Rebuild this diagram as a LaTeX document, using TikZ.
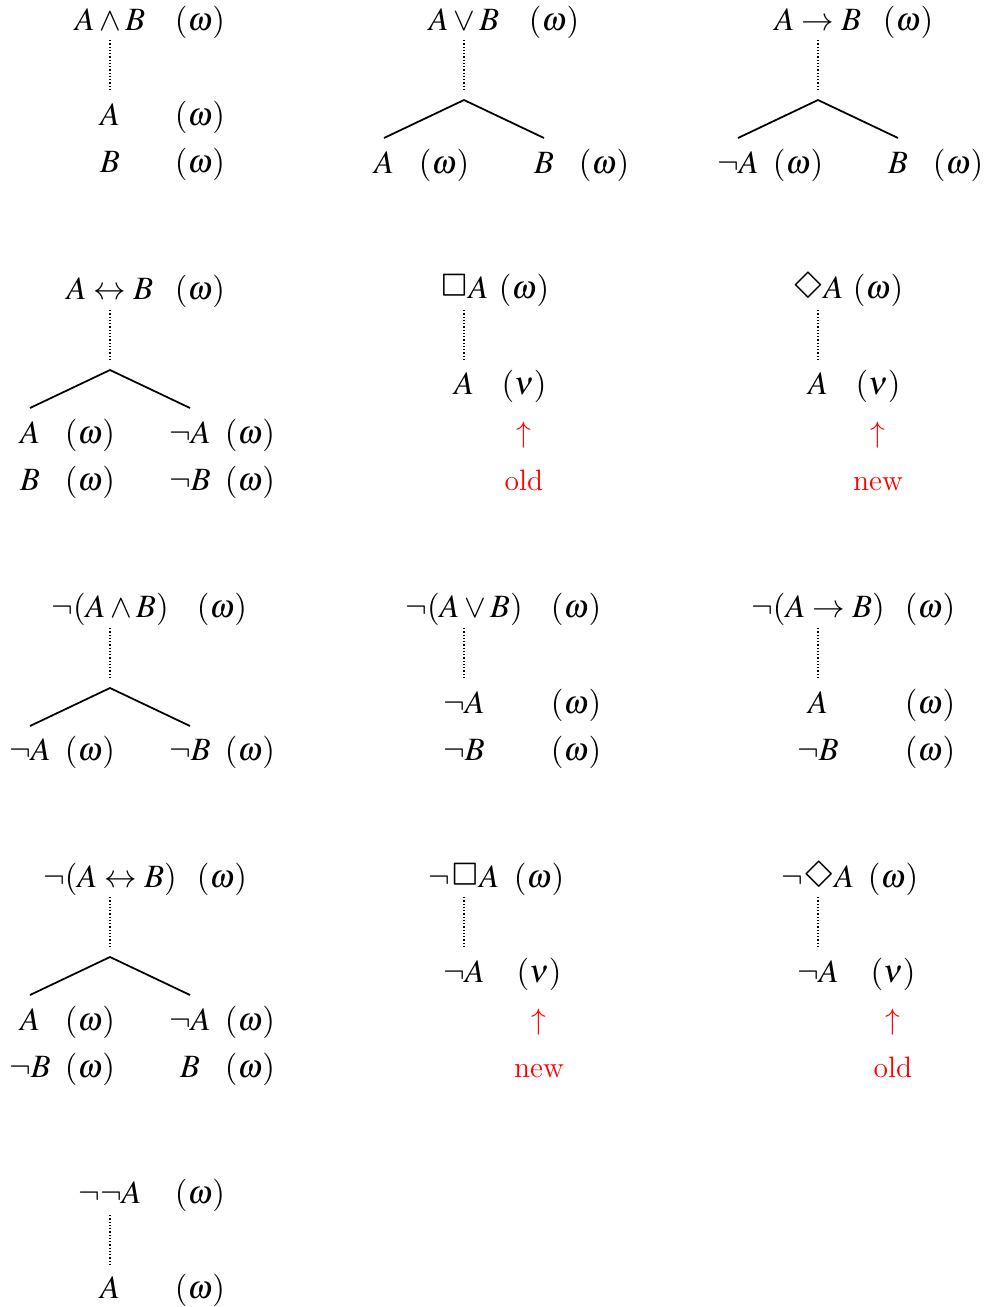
\documentclass[tikz,border=0pt]{standalone}
\usepackage{latexsym}
\usepackage{mathptmx}
\newcommand{\BoxOp}{\mathord{\scalebox{1.3}{$\Box$}}}
\newcommand{\DiaOp}{\mathord{\scalebox{1.3}{$\Diamond$}}}
\begin{document}
\begin{tikzpicture}[x=0.4pt,y=-0.4pt,
  lbl/.style={inner sep=0pt,anchor=base,font=\fontsize{13}{15}\selectfont},
  note/.style={inner sep=0pt,anchor=base,text=red,font=\fontsize{11.8}{14}\selectfont},
  dots/.style={line width=0.55pt,dash pattern=on 0.55pt off 0.75pt},
  branch/.style={line width=0.7pt}]
\useasboundingbox (0,0) rectangle (984,1307);
% ---------- Panel 1: A and B
\node[lbl] (f1) at (110,30) {$A\wedge B$};
\node[lbl] (w1) at (200,30) {$(\omega)$};
\coordinate (d1t) at (110,40); \coordinate (d1b) at (110,90);
\draw[dots] (d1t) -- (d1b);
\node[lbl] (p1a) at (110,125) {$A$};
\node[lbl] (p1aw) at (200,125) {$(\omega)$};
\node[lbl] (p1b) at (110,172) {$B$};
\node[lbl] (p1bw) at (200,172) {$(\omega)$};
% ---------- Panel 2: A or B
\node[lbl] (f2) at (464,30) {$A\vee B$};
\node[lbl] (w2) at (554,30) {$(\omega)$};
\coordinate (d2t) at (464,40); \coordinate (d2b) at (464,90);
\draw[dots] (d2t) -- (d2b);
\coordinate (ap2) at (464,100); \coordinate (l2) at (384,138); \coordinate (r2) at (544,138);
\draw[branch] (l2) -- (ap2) -- (r2);
\node[lbl] (p2a) at (384,173) {$A$};
\node[lbl] (p2aw) at (444,173) {$(\omega)$};
\node[lbl] (p2b) at (544,173) {$B$};
\node[lbl] (p2bw) at (604,173) {$(\omega)$};
% ---------- Panel 3: A -> B
\node[lbl] (f3) at (818,30) {$A\rightarrow B$};
\node[lbl] (w3) at (908,30) {$(\omega)$};
\coordinate (d3t) at (818,40); \coordinate (d3b) at (818,90);
\draw[dots] (d3t) -- (d3b);
\coordinate (ap3) at (818,100); \coordinate (l3) at (738,138); \coordinate (r3) at (898,138);
\draw[branch] (l3) -- (ap3) -- (r3);
\node[lbl] (p3a) at (738,173) {$\neg A$};
\node[lbl] (p3aw) at (798,173) {$(\omega)$};
\node[lbl] (p3b) at (898,173) {$B$};
\node[lbl] (p3bw) at (958,173) {$(\omega)$};
% ---------- Panel 4: A <-> B
\node[lbl] (f4) at (110,299) {$A\leftrightarrow B$};
\node[lbl] (w4) at (200,299) {$(\omega)$};
\coordinate (d4t) at (110,310); \coordinate (d4b) at (110,360);
\draw[dots] (d4t) -- (d4b);
\coordinate (ap4) at (110,370); \coordinate (l4) at (30,408); \coordinate (r4) at (190,408);
\draw[branch] (l4) -- (ap4) -- (r4);
\node[lbl] (p4a) at (30,443) {$A$};
\node[lbl] (p4aw) at (90,443) {$(\omega)$};
\node[lbl] (p4na) at (190,443) {$\neg A$};
\node[lbl] (p4naw) at (250,443) {$(\omega)$};
\node[lbl] (p4b) at (30,490) {$B$};
\node[lbl] (p4bw) at (90,490) {$(\omega)$};
\node[lbl] (p4nb) at (190,490) {$\neg B$};
\node[lbl] (p4nbw) at (250,490) {$(\omega)$};
% ---------- Panel 5: Box A
\node[lbl] (f5) at (464,298) {$\BoxOp A$};
\node[lbl] (w5) at (524,298) {$(\omega)$};
\coordinate (d5t) at (464,310); \coordinate (d5b) at (464,360);
\draw[dots] (d5t) -- (d5b);
\node[lbl] (p5a) at (464,394) {$A$};
\node[lbl] (p5v) at (524,394) {$(\nu)$};
\node[note,anchor=center] (u5) at (524,435) {$\uparrow$};
\node[note] (t5) at (524,490) {old};
% ---------- Panel 6: Diamond A
\node[lbl] (f6) at (818,298) {$\DiaOp A$};
\node[lbl] (w6) at (878,298) {$(\omega)$};
\coordinate (d6t) at (818,310); \coordinate (d6b) at (818,360);
\draw[dots] (d6t) -- (d6b);
\node[lbl] (p6a) at (818,394) {$A$};
\node[lbl] (p6v) at (878,394) {$(\nu)$};
\node[note,anchor=center] (u6) at (878,435) {$\uparrow$};
\node[note] (t6) at (878,490) {new};
% ---------- Panel 7: not (A and B)
\node[lbl] (f7) at (110,617) {$\neg(A\wedge B)$};
\node[lbl] (w7) at (222,617) {$(\omega)$};
\coordinate (d7t) at (110,628); \coordinate (d7b) at (110,678);
\draw[dots] (d7t) -- (d7b);
\coordinate (ap7) at (110,688); \coordinate (l7) at (30,726); \coordinate (r7) at (190,726);
\draw[branch] (l7) -- (ap7) -- (r7);
\node[lbl] (p7a) at (30,760) {$\neg A$};
\node[lbl] (p7aw) at (90,760) {$(\omega)$};
\node[lbl] (p7b) at (190,760) {$\neg B$};
\node[lbl] (p7bw) at (250,760) {$(\omega)$};
% ---------- Panel 8: not (A or B)
\node[lbl] (f8) at (464,617) {$\neg(A\vee B)$};
\node[lbl] (w8) at (576,617) {$(\omega)$};
\coordinate (d8t) at (464,628); \coordinate (d8b) at (464,678);
\draw[dots] (d8t) -- (d8b);
\node[lbl] (p8a) at (464,713) {$\neg A$};
\node[lbl] (p8aw) at (576,713) {$(\omega)$};
\node[lbl] (p8b) at (464,760) {$\neg B$};
\node[lbl] (p8bw) at (576,760) {$(\omega)$};
% ---------- Panel 9: not (A -> B)
\node[lbl] (f9) at (818,617) {$\neg(A\rightarrow B)$};
\node[lbl] (w9) at (930,617) {$(\omega)$};
\coordinate (d9t) at (818,628); \coordinate (d9b) at (818,678);
\draw[dots] (d9t) -- (d9b);
\node[lbl] (p9a) at (818,713) {$A$};
\node[lbl] (p9aw) at (930,713) {$(\omega)$};
\node[lbl] (p9b) at (818,760) {$\neg B$};
\node[lbl] (p9bw) at (930,760) {$(\omega)$};
% ---------- Panel 10: not (A <-> B)
\node[lbl] (f10) at (110,887) {$\neg(A\leftrightarrow B)$};
\node[lbl] (w10) at (222,887) {$(\omega)$};
\coordinate (d10t) at (110,897); \coordinate (d10b) at (110,947);
\draw[dots] (d10t) -- (d10b);
\coordinate (ap10) at (110,957); \coordinate (l10) at (30,995); \coordinate (r10) at (190,995);
\draw[branch] (l10) -- (ap10) -- (r10);
\node[lbl] (p10a) at (30,1030) {$A$};
\node[lbl] (p10aw) at (90,1030) {$(\omega)$};
\node[lbl] (p10na) at (190,1030) {$\neg A$};
\node[lbl] (p10naw) at (250,1030) {$(\omega)$};
\node[lbl] (p10nb) at (30,1077) {$\neg B$};
\node[lbl] (p10nbw) at (90,1077) {$(\omega)$};
\node[lbl] (p10b) at (190,1077) {$B$};
\node[lbl] (p10bw) at (250,1077) {$(\omega)$};
% ---------- Panel 11: not Box A
\node[lbl] (f11) at (464,887) {$\neg\BoxOp A$};
\node[lbl] (w11) at (539,887) {$(\omega)$};
\coordinate (d11t) at (464,897); \coordinate (d11b) at (464,947);
\draw[dots] (d11t) -- (d11b);
\node[lbl] (p11a) at (464,982) {$\neg A$};
\node[lbl] (p11v) at (539,982) {$(\nu)$};
\node[note,anchor=center] (u11) at (539,1022) {$\uparrow$};
\node[note] (t11) at (539,1077) {new};
% ---------- Panel 12: not Diamond A
\node[lbl] (f12) at (818,887) {$\neg\DiaOp A$};
\node[lbl] (w12) at (893,887) {$(\omega)$};
\coordinate (d12t) at (818,897); \coordinate (d12b) at (818,947);
\draw[dots] (d12t) -- (d12b);
\node[lbl] (p12a) at (818,982) {$\neg A$};
\node[lbl] (p12v) at (893,982) {$(\nu)$};
\node[note,anchor=center] (u12) at (893,1022) {$\uparrow$};
\node[note] (t12) at (893,1077) {old};
% ---------- Panel 13: not not A
\node[lbl] (f13) at (110,1203) {$\neg\neg A$};
\node[lbl] (w13) at (200,1203) {$(\omega)$};
\coordinate (d13t) at (110,1215); \coordinate (d13b) at (110,1265);
\draw[dots] (d13t) -- (d13b);
\node[lbl] (p13a) at (110,1298) {$A$};
\node[lbl] (p13aw) at (200,1298) {$(\omega)$};
\end{tikzpicture}
\end{document}
